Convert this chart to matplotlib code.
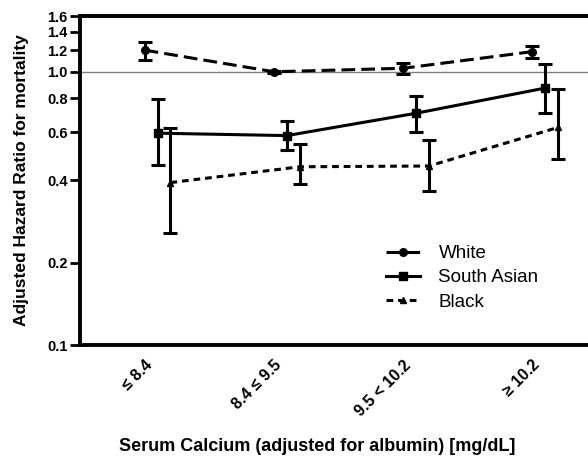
import matplotlib
matplotlib.use("Agg")
import matplotlib.pyplot as plt
from matplotlib.ticker import FixedLocator, FixedFormatter, NullLocator
import numpy as np

plt.rcParams['font.family'] = ['Liberation Sans', 'DejaVu Sans']

categories = ['≤ 8.4', '8.4 ≤ 9.5', '9.5 < 10.2', '≥ 10.2']

white = [1.20, 1.00, 1.03, 1.185]
white_lo = [1.10, 0.99, 0.98, 1.12]
white_hi = [1.29, 1.01, 1.08, 1.245]

south_asian = [0.596, 0.584, 0.705, 0.872]
south_asian_lo = [0.456, 0.517, 0.604, 0.705]
south_asian_hi = [0.793, 0.662, 0.813, 1.07]

black = [0.393, 0.449, 0.452, 0.626]
black_lo = [0.256, 0.388, 0.367, 0.478]
black_hi = [0.625, 0.544, 0.563, 0.863]

yticks = [0.1, 0.2, 0.4, 0.6, 0.8, 1.0, 1.2, 1.4, 1.6]
yticklabels = ['0.1', '0.2', '0.4', '0.6', '0.8', '1.0', '1.2', '1.4', '1.6']

fig = plt.figure(figsize=(5.88, 4.69), dpi=100)
ax = fig.add_axes([80/588, 124/469, 530/588, 329/469])
ax.set_yscale('log')
ax.set_ylim(0.1, 1.6)
ax.set_xlim(-0.5, 3.6)

x = np.arange(len(categories))

ax.axhline(1.0, color='#808080', lw=1.0, zorder=1)

def draw(xs, v, lo, hi, ls, marker, ms, label, dashes=None):
    v = np.array(v); lo = np.array(lo); hi = np.array(hi)
    err = [v - lo, hi - v]
    ax.errorbar(xs, v, yerr=err, fmt='none', ecolor='black', elinewidth=2.2,
                capsize=5, capthick=2.2, zorder=3)
    line, = ax.plot(xs, v, color='black', lw=2.2, linestyle=ls, marker=marker,
                    ms=ms, label=label, zorder=4)
    if dashes is not None:
        line.set_dashes(dashes)
    return line

draw(x, white, white_lo, white_hi, '--', 'o', 5.5, 'White', dashes=(4.5, 2))
draw(x + 0.1, south_asian, south_asian_lo, south_asian_hi, '-', 's', 6, 'South Asian')
draw(x + 0.2, black, black_lo, black_hi, ':', '^', 5, 'Black', dashes=(2.2, 1.6))

ax.yaxis.set_major_locator(FixedLocator(yticks))
ax.yaxis.set_major_formatter(FixedFormatter(yticklabels))
ax.yaxis.set_minor_locator(NullLocator())
ax.set_xticks(x)
ax.set_xticklabels(categories, rotation=45, ha='right', rotation_mode='anchor',
                   fontsize=11.5, fontweight='bold')
ax.tick_params(axis='x', length=0, pad=9)
ax.tick_params(axis='y', length=7, width=2, labelsize=10.5, pad=2)
for t in ax.get_yticklabels():
    t.set_fontweight('bold')

for s in ['left', 'bottom', 'top', 'right']:
    ax.spines[s].set_linewidth(2.8)

ax.set_ylabel('Adjusted Hazard Ratio for mortality', fontsize=12.5, fontweight='bold', labelpad=13)
fig.text(317/588, 1 - 446/469, 'Serum Calcium (adjusted for albumin) [mg/dL]',
         ha='center', va='center', fontsize=13, fontweight='bold')

leg = ax.legend(loc='upper left', bbox_to_anchor=(386/588, 1 - 245/469),
                bbox_transform=fig.transFigure, frameon=False, fontsize=13.5,
                handlelength=1.8, handletextpad=1.0, labelspacing=0.38,
                borderaxespad=0, borderpad=0)

fig.savefig('out.png', dpi=100)
